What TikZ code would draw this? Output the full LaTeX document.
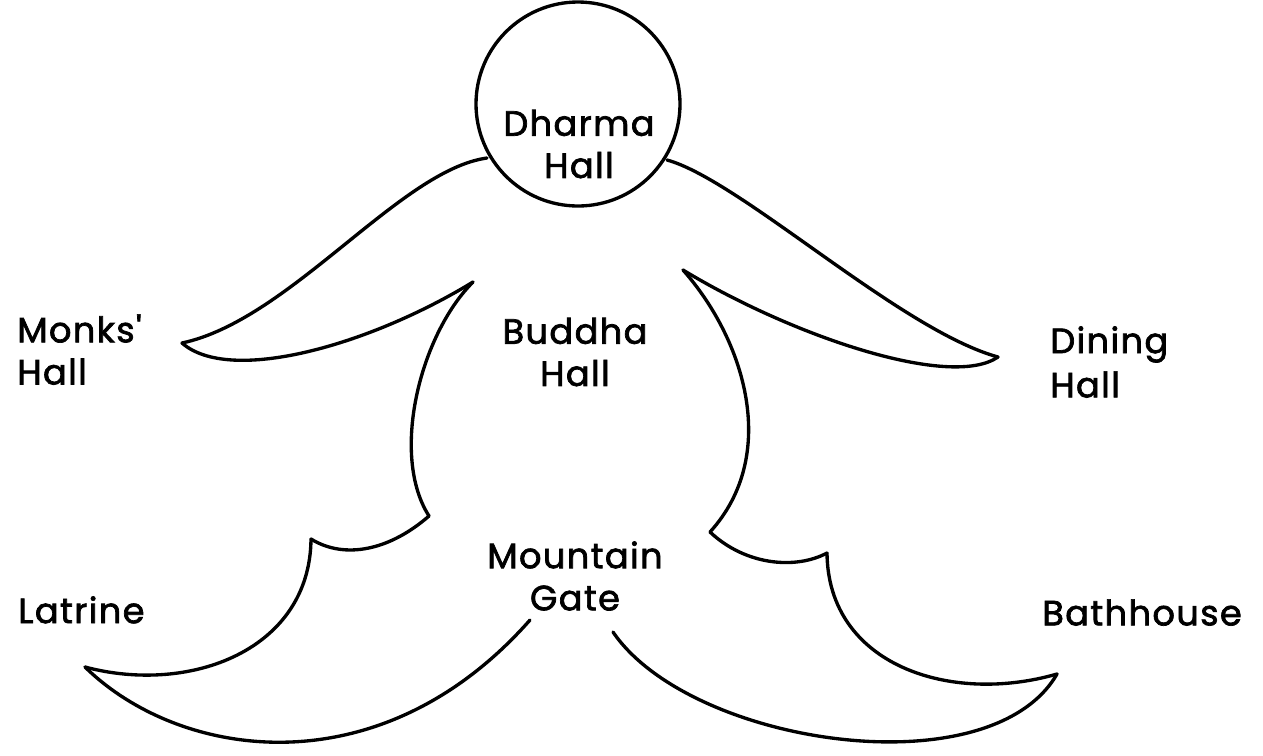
\documentclass[tikz,border=0pt]{standalone}
\usepackage{fontspec}
\newfontfamily\lblfont{Poppins}[LetterSpace=4, FakeBold=2]
\begin{document}
\begin{tikzpicture}[x=0.02cm,y=-0.02cm,
  outline/.style={line width=1.9pt, line join=round, line cap=round},
  lbl/.style={font=\lblfont\fontsize{20}{20}\selectfont, inner sep=0pt, align=center},
  lbll/.style={lbl, align=left, anchor=north west}]
\useasboundingbox (0,0) rectangle (1263,755);
\node[circle, draw, line width=1.9pt, minimum size=204*0.02cm, inner sep=0pt] (dharma) at (578,104) {};
\node[lbl] (dharmat) at (579,144) {Dharma\\[4pt]Hall};
\node[lbll] (monks) at (17,314) {Monks{\char"27}\\[4pt]Hall};
\node[lbl] (buddha) at (575,352) {Buddha\\[4pt]Hall};
\node[lbll] (dining) at (1050,326) {Dining\\[4pt]Hall};
\node[lbl] (gate) at (575,576) {Mountain\\[4pt]Gate};
\node[lbll] (latrine) at (18,596) {Latrine};
\node[lbll] (bath) at (1042,599) {Bathhouse};
% left side
\draw[outline] (487,158) .. controls (400,170) and (290,320) .. (182,343)
  coordinate (mtip);
\draw[outline] (mtip) .. controls (230,385) and (370,345) .. (473,282)
  coordinate (lb1);
\draw[outline] (lb1) .. controls (420,335) and (390,455) .. (429,516)
  coordinate (lb2);
\draw[outline] (lb2) .. controls (390,550) and (345,560) .. (311,539)
  coordinate (lb3);
\draw[outline] (lb3) .. controls (310,650) and (190,695) .. (85,667)
  coordinate (ltip);
\draw[outline] (ltip) .. controls (180,760) and (380,790) .. (530,620);
% right side
\draw[outline] (667,160) .. controls (740,180) and (900,330) .. (998,357)
  coordinate (dtip);
\draw[outline] (dtip) .. controls (950,390) and (790,335) .. (683,270)
  coordinate (rb1);
\draw[outline] (rb1) .. controls (745,340) and (780,455) .. (710,532)
  coordinate (rb2);
\draw[outline] (rb2) .. controls (745,565) and (795,570) .. (827,553)
  coordinate (rb3);
\draw[outline] (rb3) .. controls (828,665) and (950,705) .. (1057,674)
  coordinate (btip);
\draw[outline] (btip) .. controls (990,790) and (690,745) .. (613,632);
\end{tikzpicture}
\end{document}
